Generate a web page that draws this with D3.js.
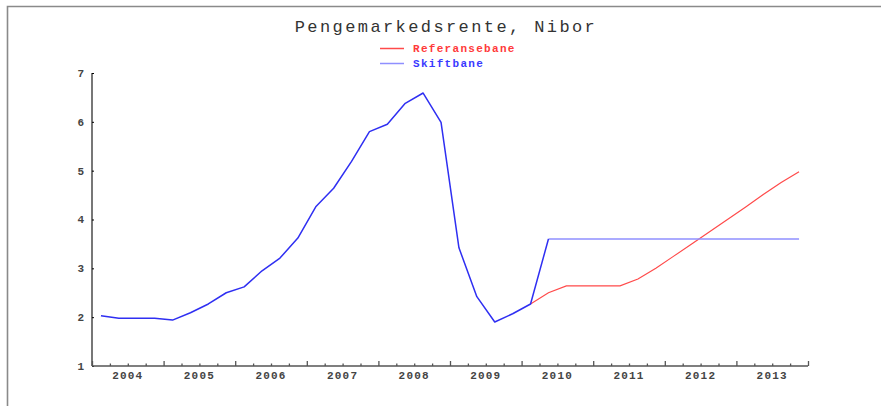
<!DOCTYPE html>
<html>
<head>
<meta charset="utf-8">
<script src="https://cdn.jsdelivr.net/npm/d3@7"></script>
<style>
  body { margin: 0; background: #fff; }
  text { font-family: "Liberation Mono", "DejaVu Sans Mono", monospace; }
</style>
</head>
<body>
<svg id="chart" width="881" height="406"></svg>
<script>
// years on the x axis, data is quarterly (mid-quarter points)
const years = [2004, 2005, 2006, 2007, 2008, 2009, 2010, 2011, 2012, 2013];
const yTicks = [1, 2, 3, 4, 5, 6, 7];

// historical Nibor, 2004Q1 - 2010Q1
const history = [2.03, 1.98, 1.98, 1.98, 1.94, 2.09, 2.27, 2.50, 2.62, 2.95,
  3.21, 3.62, 4.26, 4.64, 5.19, 5.80, 5.95, 6.38, 6.59, 5.99,
  3.42, 2.42, 1.90, 2.07, 2.27];

// scenarios from 2010Q1 (index 24) to 2013Q4 (index 39)
const referansebane = [2.27, 2.50, 2.64, 2.64, 2.64, 2.64, 2.78, 3.00, 3.25,
  3.50, 3.75, 4.00, 4.25, 4.51, 4.76, 4.98];
const skiftbane = [2.27, 3.60, 3.60, 3.60, 3.60, 3.60, 3.60, 3.60, 3.60,
  3.60, 3.60, 3.60, 3.60, 3.60, 3.60, 3.60];
const scenStart = 24;

const svg = d3.select('#chart');

// outer frame (only top and left edges visible)
svg.append('path')
  .attr('d', 'M7.5,406 V6.5 H881')
  .attr('fill', 'none')
  .attr('stroke', '#8a8a8a')
  .attr('stroke-width', 1.6);

const x = d3.scaleLinear()
  .domain([years[0], years[years.length - 1] + 1])
  .range([92, 808]);
const y = d3.scaleLinear()
  .domain([1, 7])
  .range([366, 73]);

const qx = (i) => x(years[0] + (i + 0.5) / 4);

// axes
const yAxis = d3.axisRight(y)
  .tickValues(yTicks)
  .tickSize(2)
  .tickFormat('');
svg.append('g')
  .attr('transform', 'translate(92,0)')
  .call(yAxis)
  .call((g) => g.select('.domain').attr('d', `M0,${y(7)}V${y(1)}`));

svg.append('g')
  .selectAll('text')
  .data(yTicks)
  .join('text')
  .attr('x', 84)
  .attr('y', (d) => y(d))
  .attr('dy', '0.35em')
  .attr('text-anchor', 'end')
  .attr('font-size', 11)
  .attr('font-weight', 'bold')
  .attr('fill', '#444')
  .text((d) => d);

const quarterTicks = d3.range(years[0], years[years.length - 1] + 1.01, 0.25);
const xAxis = d3.axisTop(x)
  .tickValues(quarterTicks)
  .tickSize(3)
  .tickFormat('');
const gx = svg.append('g')
  .attr('transform', `translate(0,${y(1)})`)
  .call(xAxis);
gx.select('.domain').attr('d', `M92,0H${x(2014)}`);
gx.selectAll('.tick line')
  .attr('y2', (d) => (Math.abs(d - Math.round(d)) < 0.01 ? -5 : -2.5));
gx.selectAll('line, .domain').attr('stroke', '#555').attr('stroke-width', 1.3);
svg.selectAll('.domain').attr('stroke', '#555').attr('stroke-width', 1.6);

svg.append('g')
  .selectAll('text')
  .data(years)
  .join('text')
  .attr('x', (d) => x(d + 0.5))
  .attr('y', y(1) + 13)
  .attr('text-anchor', 'middle')
  .attr('font-size', 11)
  .attr('font-weight', 'bold')
  .attr('letter-spacing', 1.2)
  .attr('fill', '#444')
  .text((d) => d);

// lines
const line = d3.line()
  .x((d) => qx(d[0]))
  .y((d) => y(d[1]));

const refPts = referansebane.map((v, i) => [scenStart + i, v]);
const skiftPts = skiftbane.map((v, i) => [scenStart + i, v]);
const histPts = history.map((v, i) => [i, v]);

svg.append('path')
  .datum(refPts)
  .attr('fill', 'none')
  .attr('stroke', '#ff4a4a')
  .attr('stroke-width', 1.2)
  .attr('d', line);

svg.append('path')
  .datum(skiftPts.slice(1))
  .attr('fill', 'none')
  .attr('stroke', '#8f8fff')
  .attr('stroke-width', 1.6)
  .attr('d', line);

svg.append('path')
  .datum(histPts.concat(skiftPts.slice(1, 2)))
  .attr('fill', 'none')
  .attr('stroke', '#2f2ff2')
  .attr('stroke-width', 1.5)
  .attr('stroke-linejoin', 'round')
  .attr('d', line);

// title
svg.append('text')
  .attr('x', 446)
  .attr('y', 32)
  .attr('text-anchor', 'middle')
  .attr('font-size', 17)
  .attr('letter-spacing', 2.4)
  .attr('fill', '#333')
  .text('Pengemarkedsrente, Nibor');

// legend
const legend = [
  { name: 'Referansebane', color: '#ff4a4a', text: '#ff3a3a' },
  { name: 'Skiftbane', color: '#8f8fff', text: '#3a3aff' },
];
const lg = svg.append('g').selectAll('g')
  .data(legend)
  .join('g')
  .attr('transform', (d, i) => `translate(380,${48.5 + i * 15})`);
lg.append('line')
  .attr('x1', 0).attr('x2', 24)
  .attr('stroke', (d) => d.color)
  .attr('stroke-width', 1.5);
lg.append('text')
  .attr('x', 33)
  .attr('dy', '0.35em')
  .attr('font-size', 11)
  .attr('font-weight', 'bold')
  .attr('letter-spacing', 1.3)
  .attr('fill', (d) => d.text)
  .text((d) => d.name);
</script>
</body>
</html>
